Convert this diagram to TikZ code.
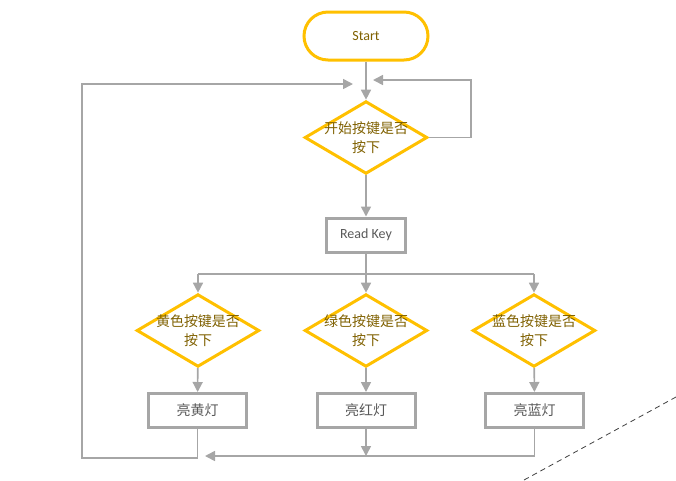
\documentclass[tikz,border=0pt]{standalone}
\usepackage{fontspec}
\setmainfont{Carlito}
\newfontfamily\cjk{Noto Sans CJK SC}
\usetikzlibrary{shapes.geometric,arrows.meta}
\definecolor{flowyellow}{HTML}{FFC000}
\definecolor{flowgray}{HTML}{A6A6A6}
\definecolor{texgold}{HTML}{7F6000}
\definecolor{texgray}{HTML}{595959}
\begin{document}
\begin{tikzpicture}[x=0.75pt,y=-0.75pt,
  terminal/.style={draw=flowyellow,line width=2.25pt,rounded corners=18pt,
    minimum width=93pt,minimum height=36pt,inner sep=0pt,
    font=\fontsize{10.5}{13}\selectfont,text=texgold},
  decisiontext/.style={align=center,inner sep=0pt,
    font=\cjk\fontsize{10.5}{14}\selectfont,text=texgold},
  decision/.style={draw=flowyellow,line width=2.25pt,diamond,
    minimum width=92pt,minimum height=54.5pt,inner sep=0pt,
    label={[decisiontext]center:#1}},
  process/.style={draw=flowgray,line width=2.25pt,rectangle,
    minimum width=73.5pt,minimum height=25.5pt,inner sep=0pt,
    font=\cjk\fontsize{10.5}{13}\selectfont,text=texgray},
  flow/.style={draw=flowgray,line width=1.2pt},
  flowarrow/.style={flow,-{Triangle[length=7.5pt,width=7.5pt]}}]
\useasboundingbox (0,0) rectangle (676,480);

% nodes
\node[terminal] (start) at (366,36) {Start};
\node[decision={开始按键是否\\按下}] (dmain) at (366,137.5) {};
\node[process,minimum width=59pt,font=\fontsize{10.5}{13}\selectfont] (readkey) at (366,235) {Read Key};
\node[decision={黄色按键是否\\按下}] (dyellow) at (198,330.5) {};
\node[decision={绿色按键是否\\按下}] (dgreen) at (366,330.5) {};
\node[decision={蓝色按键是否\\按下}] (dblue) at (534,330.5) {};
\node[process] (lyellow) at (197.5,410.5) {亮黄灯};
\node[process] (lred) at (366,410.5) {亮红灯};
\node[process] (lblue) at (534.5,410.5) {亮蓝灯};

% junction and loop points
\coordinate (split) at (366,274);
\coordinate (splitL) at (198,274);
\coordinate (splitR) at (534,274);
\coordinate (waitR) at (471,80);
\coordinate (waitTip) at (373,80);
\coordinate (backBL) at (82,458);
\coordinate (backTL) at (82,84);
\coordinate (backTip) at (353,84);
\coordinate (merge) at (366,456);
\coordinate (mergeTip) at (205,456);

% connectors
\draw[flowarrow] (start) -- (dmain);
\draw[flowarrow] (dmain.east) -| (waitR) -- (waitTip);
\draw[flowarrow] (dmain) -- (readkey);
\draw[flow] (readkey) -- (split);
\draw[flow] (splitL) -- (splitR);
\draw[flowarrow] (splitL) -- (dyellow);
\draw[flowarrow] (split) -- (dgreen);
\draw[flowarrow] (splitR) -- (dblue);
\draw[flowarrow] (dyellow) -- (lyellow);
\draw[flowarrow] (dgreen) -- (lred);
\draw[flowarrow] (dblue) -- (lblue);
\draw[flowarrow] (lyellow.south) |- (backBL) -- (backTL) -- (backTip);
\draw[flowarrow] (lblue.south) |- (mergeTip);
\draw[flowarrow] (lred) -- (merge);

% dashed guide line
\coordinate (guideA) at (524,480);
\coordinate (guideB) at (676,397);
\draw[black!75,line width=0.6pt,dash pattern=on 4pt off 3pt] (guideA) -- (guideB);
\end{tikzpicture}
\end{document}
